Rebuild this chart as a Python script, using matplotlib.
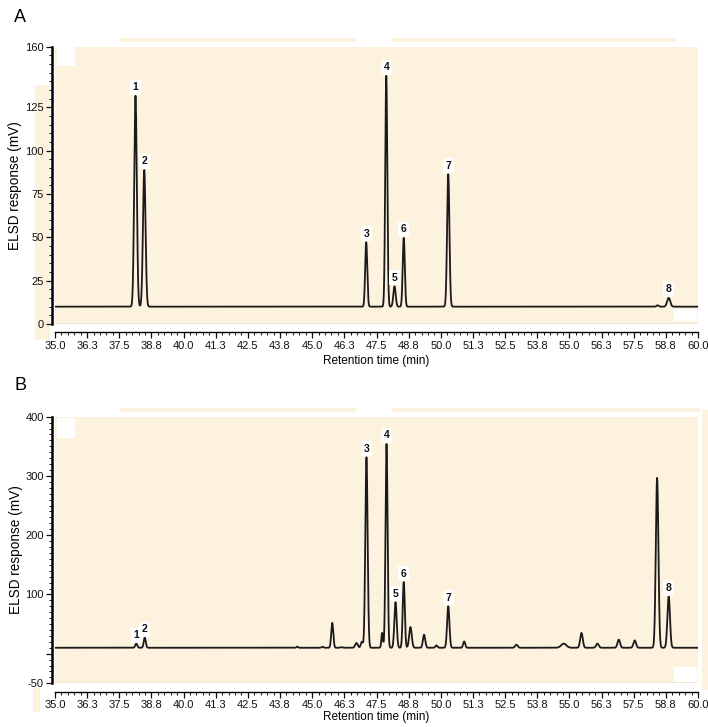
import numpy as np
import matplotlib
matplotlib.use("Agg")
import matplotlib.pyplot as plt
from matplotlib.ticker import FixedLocator, MultipleLocator
from matplotlib.patches import Rectangle

plt.rcParams['font.family'] = ['Liberation Sans', 'DejaVu Sans']

# ---------------- data ----------------
baseline_a = 10.0
a_times = [38.13, 38.47, 47.10, 47.88, 48.20, 48.56, 50.29, 58.43, 58.86]
a_heights = [121.7, 78.9, 37.2, 133.3, 11.8, 39.7, 76.4, 0.8, 5.1]
a_widths = [0.050, 0.050, 0.040, 0.040, 0.045, 0.040, 0.045, 0.04, 0.060]
a_labels = ['1', '2', '3', '4', '5', '6', '7', '', '8']

baseline_b = 10.0
b_times = [38.16, 38.49, 44.42, 45.40, 45.78, 46.14, 46.72, 46.93, 47.11,
           47.72, 47.89, 48.24, 48.56, 48.82, 49.35, 49.83, 50.29, 50.91,
           52.94, 54.78, 55.47, 56.09, 56.92, 57.54, 58.41, 58.86]
b_heights = [7, 17, 2, 1.5, 42, 1, 8, 10, 321.5,
             25, 344, 77, 111, 35, 22, 4, 70, 10.7,
             5, 7, 25, 7, 13.6, 12.4, 287, 86.6]
b_widths = [0.04, 0.04, 0.03, 0.04, 0.04, 0.04, 0.05, 0.04, 0.045,
            0.03, 0.04, 0.045, 0.04, 0.05, 0.045, 0.04, 0.045, 0.04,
            0.05, 0.10, 0.05, 0.05, 0.05, 0.05, 0.05, 0.05]
b_labels = ['1', '2', '', '', '', '', '', '', '3',
            '', '4', '5', '6', '', '', '', '7', '',
            '', '', '', '', '', '', '', '8']

x_ticks = [35.0, 36.25, 37.5, 38.75, 40.0, 41.25, 42.5, 43.75, 45.0, 46.25,
           47.5, 48.75, 50.0, 51.25, 52.5, 53.75, 55.0, 56.25, 57.5, 58.75, 60.0]
x_ticklabels = ['35.0', '36.3', '37.5', '38.8', '40.0', '41.3', '42.5', '43.8',
                '45.0', '46.3', '47.5', '48.8', '50.0', '51.3', '52.5', '53.8',
                '55.0', '56.3', '57.5', '58.8', '60.0']
a_yticks = [0, 25, 50, 75, 100, 125, 160]
a_yticklabels = ['0', '25', '50', '75', '100', '125', '160']
b_yticks = [-50, 0, 100, 200, 300, 400]
b_yticklabels = ['-50', '', '100', '200', '300', '400']

# ---------------- figure ----------------
W, H = 708, 727
fig = plt.figure(figsize=(W / 100, H / 100), dpi=100)
BEIGE = '#fdf2de'
LINE = '#1a1a1a'


def px_rect(x0, y0, x1, y1, color):
    fig.patches.append(Rectangle((x0 / W, 1 - y1 / H), (x1 - x0) / W, (y1 - y0) / H,
                                 transform=fig.transFigure, facecolor=color,
                                 edgecolor='none', zorder=-5))


# decorative beige strips from the original scan
px_rect(120, 38, 356, 42, BEIGE)
px_rect(392, 38, 676, 42, BEIGE)
px_rect(35, 85, 50, 340, BEIGE)
px_rect(120, 408, 356, 412, BEIGE)
px_rect(392, 408, 700, 412, BEIGE)
px_rect(702, 410, 708, 690, BEIGE)
px_rect(33, 688, 40, 712, BEIGE)


def trace(times, heights, widths, base, x):
    y = np.full_like(x, base)
    for t, h, w in zip(times, heights, widths):
        y = y + h * np.exp(-0.5 * ((x - t) / w) ** 2)
    return y


def setup(ax, ylim, yticks, yticklabels, yminor, xlabel_pad):
    ax.set_facecolor(BEIGE)
    ax.set_xlim(35, 60)
    ax.set_ylim(*ylim)
    for s in ('top', 'right'):
        ax.spines[s].set_visible(False)
    ax.spines['bottom'].set_position(('outward', 6))
    ax.spines['left'].set_position(('outward', 2))
    ax.spines['left'].set_linewidth(1.8)
    ax.spines['bottom'].set_linewidth(1.0)
    ax.axhline(ylim[0], color='#9a9a9a', lw=0.9, zorder=1)
    ax.xaxis.set_major_locator(FixedLocator(x_ticks))
    ax.set_xticklabels(x_ticklabels)
    ax.xaxis.set_minor_locator(MultipleLocator(0.25))
    ax.yaxis.set_major_locator(FixedLocator(yticks))
    ax.set_yticklabels(yticklabels)
    ax.yaxis.set_minor_locator(MultipleLocator(yminor))
    ax.tick_params(which='major', direction='out', length=4, width=0.9,
                   labelsize=8, pad=2, colors='#111')
    ax.tick_params(which='minor', direction='out', length=2, width=0.7, colors='#111')
    ax.set_xlabel('Retention time (min)', fontsize=8.5, labelpad=xlabel_pad)
    ax.set_ylabel('ELSD response (mV)', fontsize=9.8, labelpad=2)


def label_peaks(ax, times, heights, base, labels):
    for t, h, lab in zip(times, heights, labels):
        if lab:
            ax.annotate(lab, (t, base + h), xytext=(0, 2.5), textcoords='offset points',
                        ha='center', va='bottom', fontsize=7.5, fontweight='bold',
                        color='#111',
                        bbox=dict(boxstyle='square,pad=0.25', fc='white', ec='none'))


x = np.linspace(35, 60, 6000)

# ---- panel A ----
axA = fig.add_axes([55 / W, 1 - 324 / H, 643 / W, (324 - 46.7) / H])
setup(axA, (0, 160), a_yticks, a_yticklabels, 5, 3)
axA.plot(x, trace(a_times, a_heights, a_widths, baseline_a, x), color=LINE, lw=1.3,
         zorder=3)
label_peaks(axA, a_times, a_heights, baseline_a, a_labels)
axA.add_patch(Rectangle((0.003, 0.93), 0.028, 0.07, transform=axA.transAxes,
                        fc='white', ec='none', zorder=2))
axA.add_patch(Rectangle((0.962, 0.01), 0.036, 0.045, transform=axA.transAxes,
                        fc='white', ec='none', zorder=2))
fig.text(14 / W, 1 - 18 / H, 'A', fontsize=13, ha='left', va='center')

# ---- panel B ----
axB = fig.add_axes([55 / W, 1 - 683.3 / H, 643 / W, (683.3 - 416.7) / H])
setup(axB, (-50, 400), b_yticks, b_yticklabels, 10, 1)
axB.plot(x, trace(b_times, b_heights, b_widths, baseline_b, x), color=LINE, lw=1.3,
         zorder=3)
label_peaks(axB, b_times, b_heights, baseline_b, b_labels)
axB.add_patch(Rectangle((0.003, 0.92), 0.028, 0.075, transform=axB.transAxes,
                        fc='white', ec='none', zorder=2))
axB.add_patch(Rectangle((0.962, 0.005), 0.036, 0.055, transform=axB.transAxes,
                        fc='white', ec='none', zorder=2))
fig.text(14 / W, 1 - 385 / H, 'B', fontsize=13, ha='left', va='center')

fig.savefig('out.png', dpi=100)
